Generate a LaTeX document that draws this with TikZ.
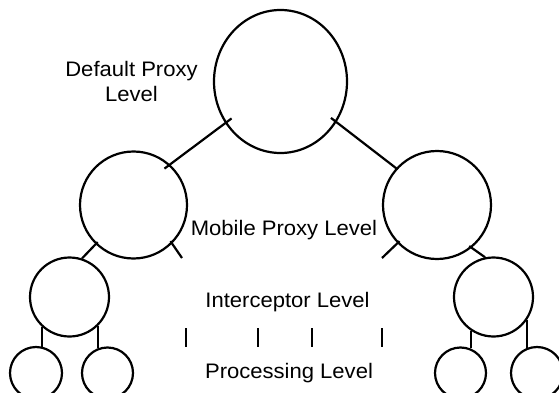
\documentclass[tikz,border=0pt]{standalone}
\usepackage{fontspec}
\setmainfont{Liberation Sans}[FakeStretch=1.05]
\usepackage{tikz}
\usetikzlibrary{positioning}
\usetikzlibrary{shapes.geometric}
\tikzset{link/.style = {line width=2.2pt}}

\begin{document}
\begin{tikzpicture}[x=1pt,y=-1pt,line width=2.2pt,
    level node/.style={circle,draw,inner sep=0pt},
    level text/.style={font=\fontsize{21}{25}\selectfont,inner sep=0pt}]
  \useasboundingbox (0,0) rectangle (559,393);
  \clip (0,0) rectangle (559,393);

  % proxies
  \node[ellipse,draw,inner sep=0pt,minimum width=133pt,minimum height=143pt] (top) at (280.5,81.5) {};
  \node[level node,minimum size=107pt] (midL) at (133.5,205) {};
  \node[level node,minimum size=108pt] (midR) at (437,205) {};
  % interceptors
  \node[level node,minimum size=79pt] (intL) at (69.5,297) {};
  \node[level node,minimum size=79pt] (intR) at (493.5,297) {};
  % processing
  \node[level node,minimum size=52pt] (pL1) at (36,373) {};
  \node[level node,minimum size=51pt] (pL2) at (107.5,373) {};
  \node[level node,minimum size=51pt] (pR1) at (460.5,373) {};
  \node[level node,minimum size=52pt] (pR2) at (537,373) {};

  \node[level text,align=center,anchor=base] (dplevel) at (131.5,102) {Default Proxy\\Level};
  \node[level text,anchor=base] (mplevel) at (284,235) {Mobile Proxy Level};
  \node[level text,anchor=base] (iclevel) at (287.5,307) {Interceptor Level};
  \node[level text,anchor=base] (prlevel) at (289,378) {Processing Level};

  \coordinate (mlend) at (182,258);
  \coordinate (mrend) at (382,258);

  \path[link] (top.-143) edge[shorten <=-8pt, shorten >=-7pt] (midL.48);
  \path[link] (top.-36) edge[shorten <=-7pt, shorten >=-2pt] (midR.138);
  \path[link] (midL.-134) edge[shorten <=-3pt] (intL.72);
  \path[link] (midR.-51) edge[shorten <=-3pt] (intR.102);
  \path[link] (midL.-45) edge[shorten <=-3pt] (mlend);
  \path[link] (midR.-136) edge[shorten <=-3pt] (mrend);

  \path[link] (intL.-132) edge[shorten >=-2pt] (intL.-132 |- pL1.north);
  \path[link] (intL.-46) edge[shorten >=-2pt] (intL.-46 |- pL2.north);
  \path[link] (intR.-123) edge[shorten >=-2pt] (intR.-123 |- pR1.north);
  \path[link] (intR.-35) edge[shorten >=-2pt] (intR.-35 |- pR2.north);

  \foreach \x in {186,258,312,382}
    \draw[link] (\x,328) -- (\x,347);
\end{tikzpicture}
\end{document}
